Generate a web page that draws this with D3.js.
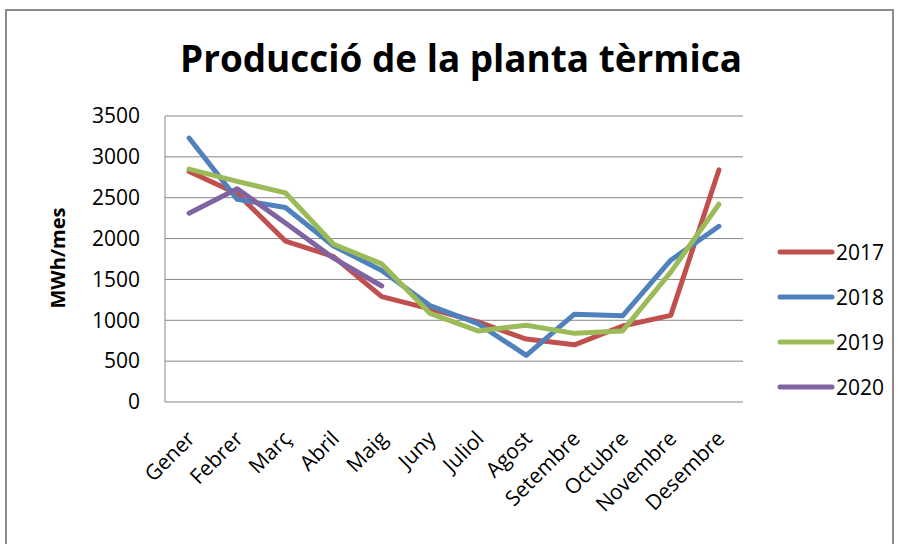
<!DOCTYPE html>
<html>
<head>
<meta charset="utf-8">
<script src="https://cdn.jsdelivr.net/npm/d3@7"></script>
<style>
  body { margin: 0; background: #fff; }
  svg text { font-family: "Open Sans", sans-serif; fill: #000; }
</style>
</head>
<body>
<div id="chart"></div>
<script>
var months = ['Gener', 'Febrer', 'Març', 'Abril', 'Maig', 'Juny', 'Juliol', 'Agost', 'Setembre', 'Octubre', 'Novembre', 'Desembre'];
var years = ['2017', '2018', '2019', '2020'];
var v2017 = [2820, 2550, 1970, 1780, 1290, 1140, 980, 770, 700, 930, 1060, 2840];
var v2018 = [3230, 2480, 2380, 1910, 1610, 1180, 960, 570, 1075, 1055, 1735, 2150];
var v2019 = [2850, 2700, 2560, 1930, 1690, 1085, 870, 940, 840, 870, 1590, 2420];
var v2020 = [2310, 2610, 2190, 1760, 1420];
var yTicks = [0, 500, 1000, 1500, 2000, 2500, 3000, 3500];
var colors = ['#C0504D', '#4F81BD', '#9BBB59', '#8064A2'];

var series = [v2017, v2018, v2019, v2020].map(function(vals, i) {
    return { name: years[i], color: colors[i], values: vals };
});

var width = 899,
    height = 544,
    svg = d3.select('#chart')
    .append('svg')
    .attr('width', width)
    .attr('height', height);

// chart frame
svg.append('rect')
    .attr('x', 6).attr('y', 10)
    .attr('width', 887).attr('height', 545)
    .attr('fill', '#fff')
    .attr('stroke', '#8c8c8c')
    .attr('stroke-width', 2);

var plotLeft = 165, plotRight = 743, plotTop = 116, plotBottom = 402;

var x = d3.scaleBand().domain(months).range([plotLeft, plotRight]);
var y = d3.scaleLinear().domain([0, 3500]).range([plotBottom, plotTop]);

// gridlines
svg.append('g')
    .selectAll('line')
    .data(yTicks)
    .enter()
    .append('line')
    .attr('x1', plotLeft).attr('x2', plotRight)
    .attr('y1', function(d) { return y(d); })
    .attr('y2', function(d) { return y(d); })
    .attr('stroke', '#878787')
    .attr('stroke-width', 1);

svg.append('line')
    .attr('x1', plotLeft).attr('x2', plotLeft)
    .attr('y1', plotTop).attr('y2', plotBottom)
    .attr('stroke', '#878787');

var yAxis = svg.append('g')
    .attr('transform', 'translate(' + plotLeft + ',0)')
    .call(d3.axisLeft(y).tickValues(yTicks).tickSize(0).tickPadding(25).tickFormat(d3.format('d')));
yAxis.select('.domain').remove();
yAxis.selectAll('text').style('font-size', '21px');

var xAxis = svg.append('g')
    .attr('transform', 'translate(0,' + plotBottom + ')')
    .call(d3.axisBottom(x).tickSize(0));
xAxis.select('.domain').remove();
xAxis.selectAll('text')
    .style('font-size', '21px')
    .attr('text-anchor', 'end')
    .attr('dy', 0)
    .attr('y', 0)
    .attr('transform', 'translate(7,38) rotate(-45)');

// lines
var line = d3.line()
    .x(function(d, i) { return x(months[i]) + x.bandwidth() / 2; })
    .y(function(d) { return y(d); });

svg.append('g')
    .selectAll('path')
    .data(series)
    .enter()
    .append('path')
    .attr('fill', 'none')
    .attr('stroke', function(d) { return d.color; })
    .attr('stroke-width', 5)
    .attr('stroke-linejoin', 'round')
    .attr('stroke-linecap', 'round')
    .attr('d', function(d) { return line(d.values); });

// title
svg.append('text')
    .attr('x', 461).attr('y', 72)
    .attr('text-anchor', 'middle')
    .attr('textLength', 562)
    .attr('lengthAdjust', 'spacingAndGlyphs')
    .style('font-size', '38px')
    .style('font-weight', 'bold')
    .text('Producció de la planta tèrmica');

// y axis title
svg.append('text')
    .attr('transform', 'translate(65,258) rotate(-90)')
    .attr('text-anchor', 'middle')
    .style('font-size', '20px')
    .style('font-weight', 'bold')
    .text('MWh/mes');

// legend
var legend = svg.append('g')
    .selectAll('g')
    .data(series)
    .enter()
    .append('g')
    .attr('transform', function(d, i) { return 'translate(780,' + (252 + i * 45) + ')'; });

legend.append('line')
    .attr('x1', 0).attr('x2', 52)
    .attr('stroke', function(d) { return d.color; })
    .attr('stroke-width', 5)
    .attr('stroke-linecap', 'round');

legend.append('text')
    .attr('x', 56).attr('y', 8)
    .style('font-size', '21px')
    .text(function(d) { return d.name; });
</script>
</body>
</html>
